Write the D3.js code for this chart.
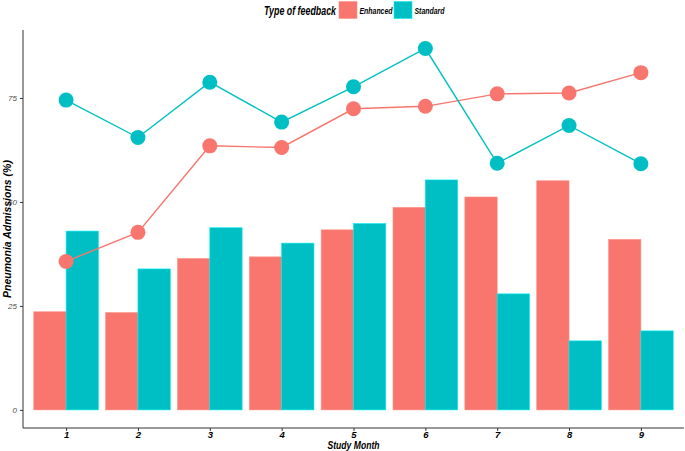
<!DOCTYPE html>
<meta charset='utf-8'>
<style>
  body { margin: 0; background: #fff; }
  text { font-family: 'Liberation Sans', Arial, sans-serif; font-style: italic; }
</style>
<body>
<div class="chart"></div>
<script src='https://d3js.org/d3.v7.min.js'></script>
<script>

var months = ['1', '2', '3', '4', '5', '6', '7', '8', '9'];
var groups = ['Enhanced', 'Standard'];
var yTicks = [0, 25, 50, 75];

// bars
var barEnhanced = [23.6, 23.4, 36.4, 36.8, 43.3, 48.7, 51.2, 55.1, 41.0];
var barStandard = [43.0, 33.9, 43.8, 40.1, 44.8, 55.3, 27.9, 16.6, 19.0];

// lines + points
var lineEnhanced = [35.7, 42.7, 63.5, 63.1, 72.4, 73.0, 76.0, 76.2, 81.1];
var lineStandard = [74.5, 65.5, 78.8, 69.2, 77.7, 86.9, 59.3, 68.4, 59.2];

var width = 685, height = 451;
var pLeft = 23, pRight = 684, pTop = 30, pBottom = 428;

var svg = d3.select('.chart')
	.append('svg')
	.attr('width', width)
	.attr('height', height);

var color = d3.scaleOrdinal()
	.domain(groups)
	.range(['#F8766D', '#00BFC4']);

// ggplot style discrete axis: 0.6 units of expansion each side
var xPos = d3.scalePoint()
	.domain(months)
	.range([pLeft + (pRight - pLeft) * 0.6 / 9.2, pRight - (pRight - pLeft) * 0.6 / 9.2]);
var step = xPos.step();

var x1 = d3.scaleBand()
	.domain(groups)
	.range([-step * 0.45, step * 0.45]);

var y = d3.scaleLinear()
	.domain([-4.35, 91.35])
	.range([pBottom, pTop]);

// bars
var barData = [];
months.forEach(function(m, i) {
	barData.push({month: m, group: 'Enhanced', value: barEnhanced[i]});
	barData.push({month: m, group: 'Standard', value: barStandard[i]});
});

svg.append('g').selectAll('rect')
	.data(barData)
	.enter().append('rect')
	.attr('x', function(d) { return xPos(d.month) + x1(d.group); })
	.attr('width', x1.bandwidth())
	.attr('y', function(d) { return y(d.value); })
	.attr('height', function(d) { return y(0) - y(d.value); })
	.attr('fill', function(d) { return color(d.group); })
	.attr('stroke', function(d) { return d3.color(color(d.group)).brighter(0.6); })
	.attr('stroke-width', 0.6);

// lines
var line = d3.line()
	.x(function(d, i) { return xPos(months[i]); })
	.y(function(d) { return y(d); });

[['Enhanced', lineEnhanced], ['Standard', lineStandard]].forEach(function(s) {
	svg.append('path')
		.datum(s[1])
		.attr('d', line)
		.attr('fill', 'none')
		.attr('stroke', color(s[0]))
		.attr('stroke-width', 1.4);
	svg.append('g').selectAll('circle')
		.data(s[1])
		.enter().append('circle')
		.attr('cx', function(d, i) { return xPos(months[i]); })
		.attr('cy', function(d) { return y(d); })
		.attr('r', 7.5)
		.attr('fill', color(s[0]));
});

// axes
var yAxis = svg.append('g')
	.attr('transform', 'translate(' + pLeft + ',0)')
	.call(d3.axisLeft(y).tickValues(yTicks).tickSize(3).tickPadding(3));
yAxis.select('.domain').attr('d', 'M0,' + pTop + 'V' + pBottom).attr('stroke', '#333');
yAxis.selectAll('.tick line').attr('stroke', '#333');
yAxis.selectAll('.tick text')
	.attr('fill', '#4d4d4d')
	.style('font-size', '8px')
	.style('font-family', "'Liberation Sans', Arial, sans-serif")
	.style('font-style', 'italic');

var xAxis = svg.append('g')
	.attr('transform', 'translate(0,' + pBottom + ')')
	.call(d3.axisBottom(xPos).tickSize(3).tickPadding(0.5));
xAxis.select('.domain').attr('d', 'M' + pLeft + ',0H' + pRight).attr('stroke', '#333');
xAxis.selectAll('.tick line').attr('stroke', '#333');
xAxis.selectAll('.tick text')
	.attr('fill', '#000')
	.style('font-size', '9.5px')
	.style('font-weight', 'bold')
	.style('font-family', "'Liberation Sans', Arial, sans-serif")
	.style('font-style', 'italic');

// axis titles (condensed look, like the original)
svg.append('text')
	.attr('x', (pLeft + pRight) / 2 - 26)
	.attr('y', 449)
	.attr('textLength', 52)
	.attr('lengthAdjust', 'spacingAndGlyphs')
	.style('font-size', '10px')
	.style('font-weight', 'bold')
	.text('Study Month');

svg.append('text')
	.attr('transform', 'translate(11,' + ((pTop + pBottom) / 2) + ') rotate(-90)')
	.attr('text-anchor', 'middle')
	.style('font-size', '10.5px')
	.style('font-weight', 'bold')
	.text('Pneumonia Admissions (%)');

// legend
var legend = svg.append('g');
legend.append('text')
	.attr('x', 264)
	.attr('y', 15)
	.attr('textLength', 72)
	.attr('lengthAdjust', 'spacingAndGlyphs')
	.style('font-size', '12px')
	.style('font-weight', 'bold')
	.text('Type of feedback');

var keyX = [339, 394];
var keyTextLen = [33, 30];
groups.forEach(function(g, i) {
	legend.append('rect')
		.attr('x', keyX[i])
		.attr('y', 1.5)
		.attr('width', 18)
		.attr('height', 17)
		.attr('fill', color(g))
		.attr('stroke', d3.color(color(g)).brighter(0.6))
		.attr('stroke-width', 0.6);
	legend.append('text')
		.attr('x', keyX[i] + 20.5)
		.attr('y', 13.5)
		.attr('textLength', keyTextLen[i])
		.attr('lengthAdjust', 'spacingAndGlyphs')
		.style('font-size', '9px')
		.style('font-weight', 'bold')
		.text(g);
});

</script>
</body>
